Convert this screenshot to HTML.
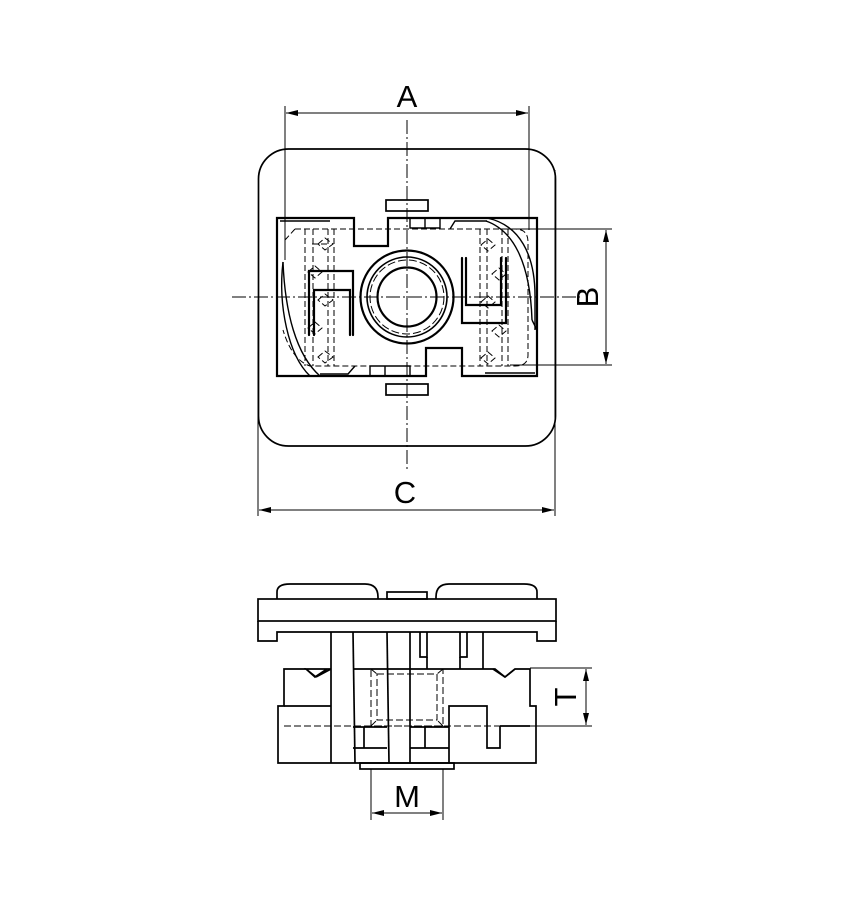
<!DOCTYPE html>
<html><head><meta charset="utf-8"><style>
html,body{margin:0;padding:0;background:#fff}
svg{display:block}
text{font-family:"Liberation Sans",sans-serif;fill:#000}
</style></head><body>
<svg width="850" height="900" viewBox="0 0 850 900" xmlns="http://www.w3.org/2000/svg">
<defs>
<marker id="ar" viewBox="0 0 12 6" refX="12" refY="3" markerWidth="12" markerHeight="6" orient="auto-start-reverse" markerUnits="userSpaceOnUse"><path d="M0,0 L12,3 L0,6 Z" fill="#000"/></marker>
</defs>
<g fill="none" stroke="#000">
<g stroke-width="1" stroke-dasharray="14,3,2,3">
<line x1="232" y1="297" x2="580" y2="297"/>
<line x1="407" y1="120" x2="407" y2="470"/>
</g>
<g stroke-width="1">
<line x1="285" y1="106" x2="285" y2="260"/>
<line x1="529" y1="106" x2="529" y2="230"/>
<line x1="286" y1="113" x2="528" y2="113" marker-start="url(#ar)" marker-end="url(#ar)"/>
<line x1="258" y1="300" x2="258" y2="516"/>
<line x1="555" y1="170" x2="555" y2="516"/>
<line x1="259" y1="510" x2="554" y2="510" marker-start="url(#ar)" marker-end="url(#ar)"/>
<line x1="500" y1="229" x2="612" y2="229"/>
<line x1="510" y1="365" x2="612" y2="365"/>
<line x1="606" y1="230" x2="606" y2="364" marker-start="url(#ar)" marker-end="url(#ar)"/>
</g>
<rect x="258.5" y="149" width="297" height="297" rx="30" stroke-width="1.7"/>
<rect x="386" y="200" width="42" height="11" stroke-width="1.7"/>
<rect x="386" y="384" width="42" height="11" stroke-width="1.7"/>
<path d="M277,218 H354 V246 H388 V218 H537 V376 H462 V348 H426 V376 H277 Z" stroke-width="2.2"/>
<g stroke-width="1.4">
<path d="M410,218 V228 H440 V218"/>
<line x1="425" y1="218" x2="425" y2="228"/>
<path d="M370,376 V366 H410 V376"/>
<line x1="385" y1="366" x2="385" y2="376"/>
<path d="M450,229 L455,221 H487"/>
<path d="M355,366 L348,374 H320"/>
<line x1="280" y1="221" x2="330" y2="221"/>
<line x1="485" y1="373" x2="535" y2="373"/>
<path d="M283,262 C278,305 288,355 310,376"/>
<path d="M283,262 C285,312 296,355 320,376"/>
<path d="M487,218 C520,225 535,255 535,296 V330"/>
<path d="M486,221 C512,230 530,260 532,320"/>
<line x1="532" y1="320" x2="537" y2="330"/>
</g>
<g stroke-width="1" stroke-dasharray="6,3">
<path d="M295,229 H515 Q528,229 528,242 V355 Q528,366 515,366 H310 Q292,360 283,330"/>
<line x1="295" y1="229" x2="285" y2="240"/>
<line x1="305" y1="229" x2="305" y2="366"/>
<line x1="313" y1="229" x2="313" y2="366"/>
<line x1="328" y1="229" x2="328" y2="366"/>
<line x1="334" y1="229" x2="334" y2="366"/>
<line x1="480" y1="229" x2="480" y2="366"/>
<line x1="487" y1="229" x2="487" y2="366"/>
<line x1="502" y1="229" x2="502" y2="366"/>
<line x1="508" y1="229" x2="508" y2="366"/>
<path d="M318,244 L325,238 L333,244 L325,250 Z M312,244 H330"/>
<path d="M308,272 L315,266 L322,272 L315,278 Z"/>
<path d="M318,300 L325,294 L333,300 L325,306 Z"/>
<path d="M308,328 L315,322 L322,328 L315,334 Z"/>
<path d="M318,357 L325,351 L333,357 L325,363 Z"/>
<path d="M481,245 L488,239 L495,245 L488,251 Z"/>
<path d="M492,274 L499,268 L506,274 L499,280 Z"/>
<path d="M481,302 L488,296 L495,302 L488,308 Z"/>
<path d="M492,331 L499,325 L506,331 L499,337 Z"/>
<path d="M481,358 L488,352 L495,358 L488,364 Z"/>
</g>
<g stroke-width="2.2" stroke-linecap="round">
<path d="M309,335 V271 H353 V335"/>
<path d="M314,335 V290 H350 V335"/>
<path d="M462,258 V323 H506 V258"/>
<path d="M466,258 V305 H501 V258"/>
</g>
<circle cx="407" cy="297" r="46.5" stroke-width="2.2"/>
<circle cx="407" cy="297" r="40" stroke-width="1.6"/>
<circle cx="407" cy="297" r="37" stroke-width="1" stroke-dasharray="8,3"/>
<circle cx="407" cy="297" r="29.5" stroke-width="2.2"/>

<g stroke-width="1.7">
<path d="M277,599 V592 Q277,584 290,584 H365 Q378,584 378,597 V599"/>
<path d="M436,599 V597 Q436,584 449,584 H524 Q537,584 537,592 V599"/>
<rect x="387" y="592" width="40" height="7"/>
<rect x="258" y="599" width="298" height="22"/>
<path d="M258,621 V641 H277 V632 H537 V641 H556 V621"/>
<path d="M331,632 V763"/>
<path d="M353,632 L355,763"/>
<path d="M387,632 L389,763"/>
<path d="M410,632 V763"/>
<path d="M483,632 V669"/>
<path d="M420,632 V657 H427 V632"/>
<path d="M460,632 V657 H467 V632"/>
<path d="M427,657 V669 M460,657 V669"/>
<path d="M331,669 H306 L315,677 L327,669 M316,677 L306,669 M316,677 L331,669"/>
<path d="M306,669 H284 V706 H278 V763 H536 V706 H530 V669 H515 L505,677 L495,669 H483"/>
<path d="M505,677 L515,669 M505,677 L493,669"/>
<path d="M284,706 H331"/>
<path d="M353,669 H483"/>
<path d="M449,763 V706 H487 V748 H500 V726 M487,748 H500"/>
<path d="M353,727 H387 M410,727 H449"/>
<path d="M364,727 V748 M353,748 H387"/>
<path d="M425,727 V748 M410,748 H449"/>
<rect x="360" y="763" width="94" height="6"/>
<path d="M500,726 H530"/>
</g>
<g stroke-width="1" stroke-dasharray="7,3">
<path d="M284,726 H530"/>
<rect x="371" y="669" width="72" height="57"/>
<rect x="377" y="674" width="60" height="46"/>
<path d="M371,669 L377,674 M443,669 L437,674 M371,726 L377,720 M443,726 L437,720"/>
</g>
<g stroke-width="1">
<line x1="371" y1="769" x2="371" y2="820"/>
<line x1="443" y1="769" x2="443" y2="820"/>
<line x1="372" y1="813" x2="442" y2="813" marker-start="url(#ar)" marker-end="url(#ar)"/>
<line x1="530" y1="668" x2="592" y2="668"/>
<line x1="530" y1="726" x2="592" y2="726"/>
<line x1="586" y1="669" x2="586" y2="725" marker-start="url(#ar)" marker-end="url(#ar)"/>
</g>
</g>
<text x="407" y="107" font-size="31" text-anchor="middle">A</text>
<text x="405" y="503" font-size="31" text-anchor="middle">C</text>
<text x="407" y="807" font-size="31" text-anchor="middle">M</text>
<text transform="translate(598,297) rotate(-90)" font-size="31" text-anchor="middle">B</text>
<text transform="translate(576,697) rotate(-90)" font-size="31" text-anchor="middle">T</text>
</svg>
</body></html>
